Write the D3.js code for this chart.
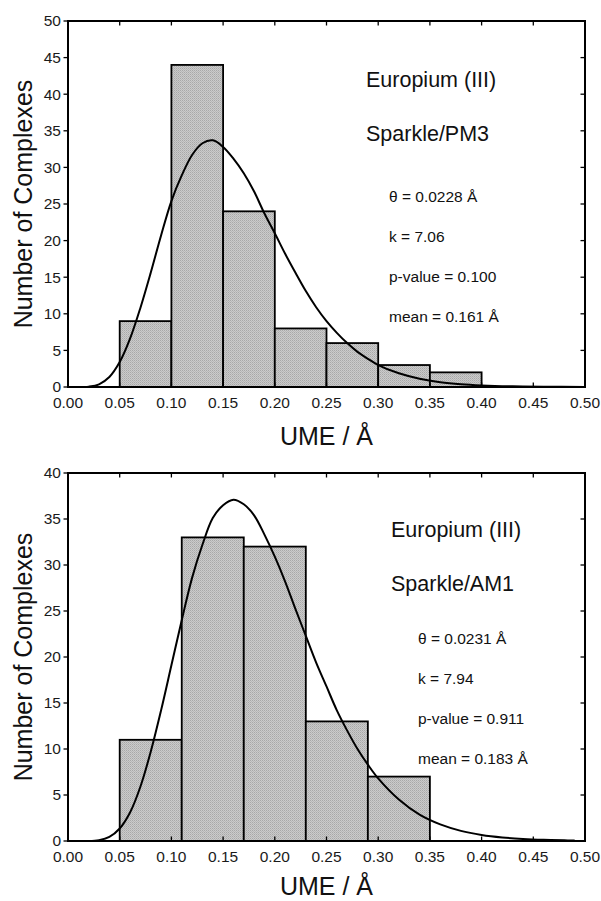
<!DOCTYPE html>
<html>
<head>
<meta charset="utf-8">
<script src="https://d3js.org/d3.v7.min.js"></script>
<style>
    body { margin: 0; background: #fff; }
    svg { display: block; font-family: "Liberation Sans", Arial, Helvetica, sans-serif; }
    .frame { fill: none; stroke: #000; stroke-width: 2; }
    .tick-line { stroke: #000; stroke-width: 1.3; }
    .tick-label { font-size: 15.5px; fill: #1a1a1a; }
    .axis-title { font-size: 25px; fill: #111; }
    .bar { fill: url(#stipple); stroke: #000; stroke-width: 1.8; }
    .fit { fill: none; stroke: #000; stroke-width: 2; }
    .note-big { font-size: 21.5px; fill: #111; }
    .note-small { font-size: 15.5px; fill: #111; }
</style>
</head>
<body>
<svg id="chart" width="601" height="901"></svg>
<script>
"use strict";

// shared axis data
var xTickValues = [0, 0.05, 0.10, 0.15, 0.20, 0.25, 0.30, 0.35, 0.40, 0.45, 0.50];
var xTickLabels = ["0.00", "0.05", "0.10", "0.15", "0.20", "0.25", "0.30", "0.35", "0.40", "0.45", "0.50"];
var yTicksPM3 = [0, 5, 10, 15, 20, 25, 30, 35, 40, 45, 50];
var yTicksAM1 = [0, 5, 10, 15, 20, 25, 30, 35, 40];

// histogram bins (Sparkle/PM3)
var edgesPM3 = [0.05, 0.10, 0.15, 0.20, 0.25, 0.30, 0.35, 0.40];
var countsPM3 = [9, 44, 24, 8, 6, 3, 2];

// histogram bins (Sparkle/AM1)
var edgesAM1 = [0.05, 0.11, 0.17, 0.23, 0.29, 0.35];
var countsAM1 = [11, 33, 32, 13, 7];

// fitted curve (Sparkle/PM3)
var fitXPM3 = [0.010, 0.015, 0.02, 0.03, 0.04, 0.05, 0.06, 0.07, 0.08, 0.09, 0.10, 0.11, 0.12, 0.13, 0.14,
    0.15, 0.16, 0.17, 0.18, 0.19, 0.20, 0.21, 0.22, 0.23, 0.24, 0.25, 0.26, 0.27, 0.28, 0.29, 0.30,
    0.32, 0.34, 0.36, 0.38, 0.40, 0.43, 0.46, 0.50];
var fitYPM3 = [0, 0.01, 0.05, 0.37, 1.36, 3.4, 6.6, 10.8, 15.6, 20.7, 25.4, 28.9, 31.7, 33.3, 33.7,
    32.8, 31.2, 29.2, 26.7, 23.7, 21.0, 18.2, 15.6, 13.1, 10.9, 9.0, 7.4, 6.0, 4.8, 3.85, 3.0,
    1.87, 1.13, 0.66, 0.38, 0.22, 0.09, 0.04, 0.01];

// fitted curve (Sparkle/AM1)
var fitXAM1 = [0.02, 0.03, 0.04, 0.05, 0.06, 0.07, 0.08, 0.09, 0.10, 0.11, 0.12, 0.13, 0.14, 0.15,
    0.16, 0.17, 0.18, 0.19, 0.20, 0.21, 0.22, 0.23, 0.24, 0.25, 0.26, 0.27, 0.28, 0.29, 0.30,
    0.32, 0.34, 0.36, 0.38, 0.40, 0.42, 0.44, 0.46, 0.48, 0.49];
var fitYAM1 = [0.01, 0.09, 0.44, 1.36, 3.1, 5.9, 9.7, 14.2, 19.1, 24.0, 28.6, 32.2, 35.1, 36.5,
    37.1, 36.6, 35.4, 33.3, 30.9, 28.2, 25.2, 22.3, 19.4, 16.8, 14.2, 12.0, 10.0, 8.3, 6.8,
    4.5, 2.86, 1.8, 1.1, 0.66, 0.39, 0.23, 0.13, 0.07, 0.05];

// annotation texts
var titlesPM3 = ["Europium (III)", "Sparkle/PM3"];
var statsPM3 = ["\u03B8 = 0.0228 \u00C5", "k = 7.06", "p-value = 0.100", "mean = 0.161 \u00C5"];
var titlesAM1 = ["Europium (III)", "Sparkle/AM1"];
var statsAM1 = ["\u03B8 = 0.0231 \u00C5", "k = 7.94", "p-value = 0.911", "mean = 0.183 \u00C5"];

var svg = d3.select("#chart");

// stippled grey fill of the bars
var pattern = svg.append("defs").append("pattern")
    .attr("id", "stipple")
    .attr("patternUnits", "userSpaceOnUse")
    .attr("width", 2)
    .attr("height", 2);
pattern.append("rect").attr("width", 2).attr("height", 2).attr("fill", "#cbcbcb");
pattern.append("rect").attr("width", 1).attr("height", 1).attr("fill", "#a8a8a8");
pattern.append("rect").attr("x", 1).attr("y", 1).attr("width", 1).attr("height", 1).attr("fill", "#b7b7b7");


function draw_panel(cfg) {
    var left = 68, right = 585;
    var x = d3.scaleLinear().domain([0, 0.5]).range([left, right]);
    var y = d3.scaleLinear().domain([0, cfg.yMax]).range([cfg.bottom, cfg.top]);

    var g = svg.append("g");

    var clipId = "clip-" + cfg.name;
    g.append("clipPath").attr("id", clipId)
        .append("rect")
        .attr("x", left).attr("y", cfg.top)
        .attr("width", right - left).attr("height", cfg.bottom - cfg.top);

    // bars
    var bins = cfg.counts.map(function (c, i) {
        return { x0: cfg.edges[i], x1: cfg.edges[i + 1], n: c };
    });
    g.selectAll("rect.bar")
        .data(bins)
        .enter().append("rect")
        .attr("class", "bar")
        .attr("x", function (d) { return x(d.x0); })
        .attr("y", function (d) { return y(d.n); })
        .attr("width", function (d) { return x(d.x1) - x(d.x0); })
        .attr("height", function (d) { return y(0) - y(d.n); });

    // fitted curve
    var pts = cfg.fitX.map(function (v, i) { return [v, cfg.fitY[i]]; });
    var line = d3.line()
        .x(function (d) { return x(d[0]); })
        .y(function (d) { return y(d[1]); })
        .curve(d3.curveCatmullRom.alpha(0.5));
    g.append("path")
        .attr("class", "fit")
        .attr("clip-path", "url(#" + clipId + ")")
        .attr("d", line(pts));

    // ticks: left outward, others inward
    var tl = 4.5;
    cfg.yTicks.forEach(function (v) {
        g.append("line").attr("class", "tick-line")
            .attr("x1", left - tl).attr("x2", left)
            .attr("y1", y(v)).attr("y2", y(v));
        g.append("line").attr("class", "tick-line")
            .attr("x1", right - tl).attr("x2", right)
            .attr("y1", y(v)).attr("y2", y(v));
        g.append("text").attr("class", "tick-label")
            .attr("x", left - 7)
            .attr("y", y(v))
            .attr("dy", "0.35em")
            .attr("text-anchor", "end")
            .text(v);
    });
    xTickValues.forEach(function (v, i) {
        g.append("line").attr("class", "tick-line")
            .attr("x1", x(v)).attr("x2", x(v))
            .attr("y1", cfg.bottom).attr("y2", cfg.bottom - tl);
        g.append("line").attr("class", "tick-line")
            .attr("x1", x(v)).attr("x2", x(v))
            .attr("y1", cfg.top).attr("y2", cfg.top + tl);
        g.append("text").attr("class", "tick-label")
            .attr("x", x(v))
            .attr("y", cfg.bottom + 21)
            .attr("text-anchor", "middle")
            .text(xTickLabels[i]);
    });

    // frame
    g.append("rect").attr("class", "frame")
        .attr("x", left).attr("y", cfg.top)
        .attr("width", right - left).attr("height", cfg.bottom - cfg.top);

    // axis titles
    g.append("text").attr("class", "axis-title")
        .attr("x", (left + right) / 2)
        .attr("y", cfg.bottom + cfg.xTitleGap)
        .attr("text-anchor", "middle")
        .text("UME / \u00C5");
    g.append("text").attr("class", "axis-title")
        .attr("transform", "translate(32," + ((cfg.top + cfg.bottom) / 2) + ") rotate(-90)")
        .attr("text-anchor", "middle")
        .text("Number of Complexes");

    // annotations
    cfg.titles.forEach(function (t, i) {
        g.append("text").attr("class", "note-big")
            .attr("x", cfg.titleX)
            .attr("y", cfg.titleY + i * 54)
            .text(t);
    });
    cfg.stats.forEach(function (t, i) {
        g.append("text").attr("class", "note-small")
            .attr("x", cfg.statsX)
            .attr("y", cfg.statsY + i * 40)
            .text(t);
    });
}

draw_panel({
    name: "pm3", top: 21, bottom: 387, yMax: 50, yTicks: yTicksPM3,
    edges: edgesPM3, counts: countsPM3, fitX: fitXPM3, fitY: fitYPM3,
    xTitleGap: 58,
    titles: titlesPM3, titleX: 366, titleY: 87,
    stats: statsPM3, statsX: 389, statsY: 202
});

draw_panel({
    name: "am1", top: 473, bottom: 841, yMax: 40, yTicks: yTicksAM1,
    edges: edgesAM1, counts: countsAM1, fitX: fitXAM1, fitY: fitYAM1,
    xTitleGap: 54,
    titles: titlesAM1, titleX: 391, titleY: 537,
    stats: statsAM1, statsX: 418, statsY: 644
});
</script>
</body>
</html>
